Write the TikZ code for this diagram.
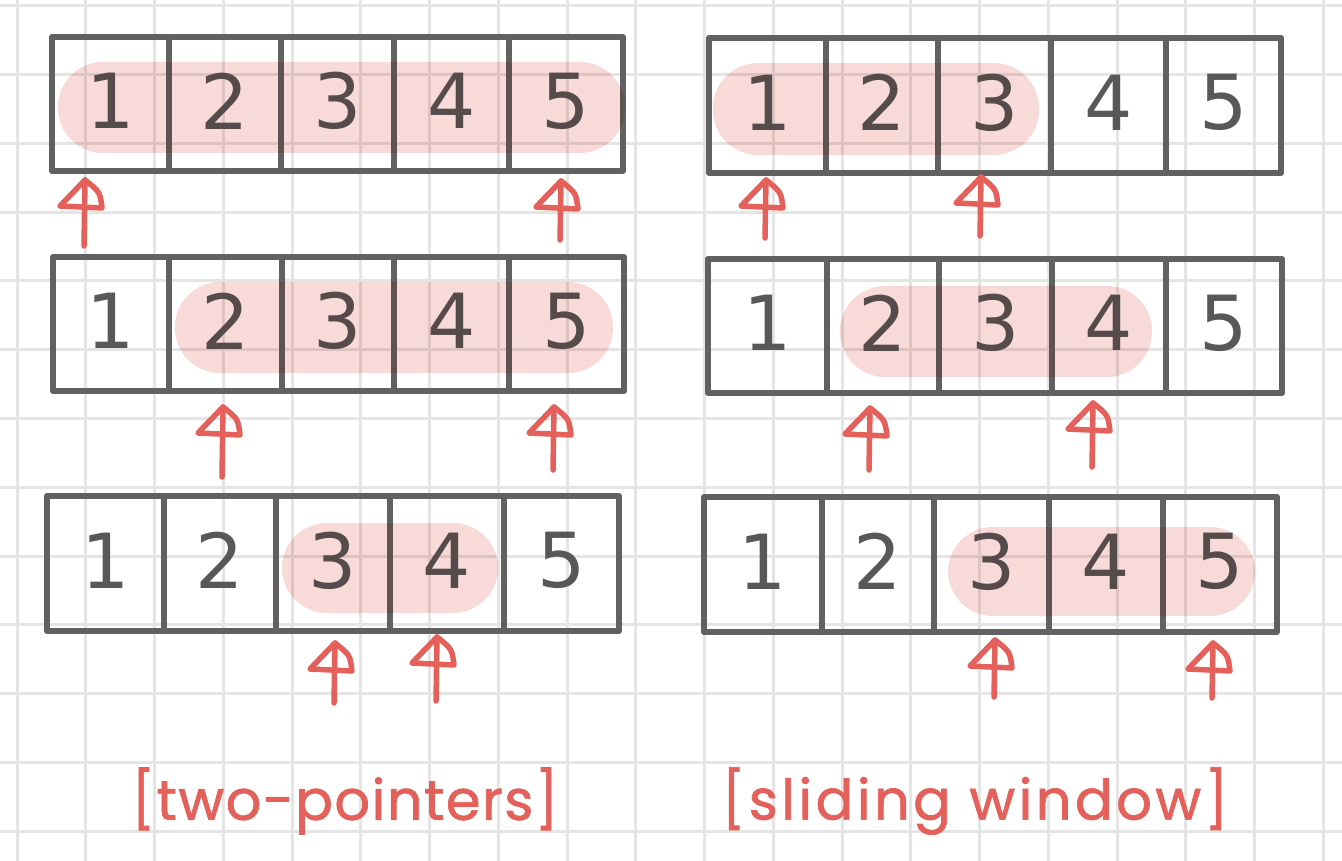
\documentclass[tikz,border=0pt]{standalone}
\usepackage{fontspec}
\setmainfont{DejaVu Sans}
\newfontfamily\labfont[FakeBold=1.2]{Poppins}
\definecolor{gridc}{RGB}{229,229,229}
\definecolor{boxc}{RGB}{97,97,97}
\definecolor{digc}{RGB}{88,88,88}
\definecolor{pinkc}{RGB}{248,218,216}
\definecolor{redc}{RGB}{228,96,90}
\newcommand\cellrow[9]{%
  \draw[boxline] (#2,#8) rectangle (#7,#9);
  \draw[boxline] (#3,#8) -- (#3,#9) (#4,#8) -- (#4,#9) (#5,#8) -- (#5,#9) (#6,#8) -- (#6,#9);
  \node[digit] (#1-1) at ({(#2+#3)/2},{(#8+#9)/2-3}) {1};
  \node[digit] (#1-2) at ({(#3+#4)/2},{(#8+#9)/2-3}) {2};
  \node[digit] (#1-3) at ({(#4+#5)/2},{(#8+#9)/2-3}) {3};
  \node[digit] (#1-4) at ({(#5+#6)/2},{(#8+#9)/2-3}) {4};
  \node[digit] (#1-5) at ({(#6+#7)/2},{(#8+#9)/2-3}) {5};
}
\newcommand\ptr[3]{%
  \draw[pointer] (#1,#2) -- ({#1-1},#3);
  \draw[pointer] (#1,#2) -- ({#1-25},{#2+26}) -- ({#1+17},{#2+28}) .. controls ({#1+15},{#2+12}) .. (#1,#2);
}
\begin{document}
\begin{tikzpicture}[x=1pt,y=-1pt,
  gridline/.style={gridc, line width=3},
  boxline/.style={boxc, line width=6, line join=round, line cap=round},
  digit/.style={text=digc, inner sep=0, font=\fontsize{76}{76}\selectfont},
  hilite/.style={fill=pinkc, rounded corners=45},
  pointer/.style={redc, line width=5.5, line cap=round, line join=round},
  caption/.style={text=redc, inner sep=0, font=\labfont\fontsize{56}{60}\selectfont}]
\fill[white] (0,0) rectangle (1342,861);
\useasboundingbox (0,0) rectangle (1342,861);
\foreach \i in {0,...,19} \draw[gridline] ({17+68.75*\i},0) -- ({17+68.75*\i},861);
\foreach \j in {0,...,12} \draw[gridline] (0,{6+68.75*\j}) -- (1342,{6+68.75*\j});

\cellrow{tl}{52}{169}{281}{394}{509}{623}{37}{171}
\cellrow{ml}{53}{169}{282}{394}{509}{624}{257}{391}
\cellrow{bl}{47}{164}{276}{390}{504}{619}{496}{631}
\cellrow{tr}{709}{826}{938}{1051}{1166}{1281}{38}{173}
\cellrow{mr}{708}{827}{939}{1052}{1166}{1282}{259}{393}
\cellrow{br}{704}{822}{934}{1049}{1163}{1277}{497}{632}

\begin{scope}[blend mode=multiply]
\path[hilite] (58,62) rectangle (625,153);
\path[hilite] (175,282) rectangle (613,373);
\path[hilite] (282,523) rectangle (498,613);
\path[hilite] (713,63) rectangle (1039,155);
\path[hilite] (840,286) rectangle (1152,377);
\path[hilite] (948,527) rectangle (1255,616);
\end{scope}

\ptr{85}{180}{246}
\ptr{561}{181}{240}
\ptr{223}{407}{477}
\ptr{554}{407}{470}
\ptr{335}{643}{703}
\ptr{437}{637}{701}
\ptr{766}{180}{238}
\ptr{981}{177}{236}
\ptr{870}{408}{470}
\ptr{1093}{403}{467}
\ptr{995}{640}{697}
\ptr{1213}{643}{698}

\node[caption] (lab1) at (345,801) {\addfontfeature{LetterSpace=2.5}[two-pointers]};
\node[caption] (lab2) at (975,801) {\addfontfeature{LetterSpace=6}[sliding window]};
\end{tikzpicture}
\end{document}
